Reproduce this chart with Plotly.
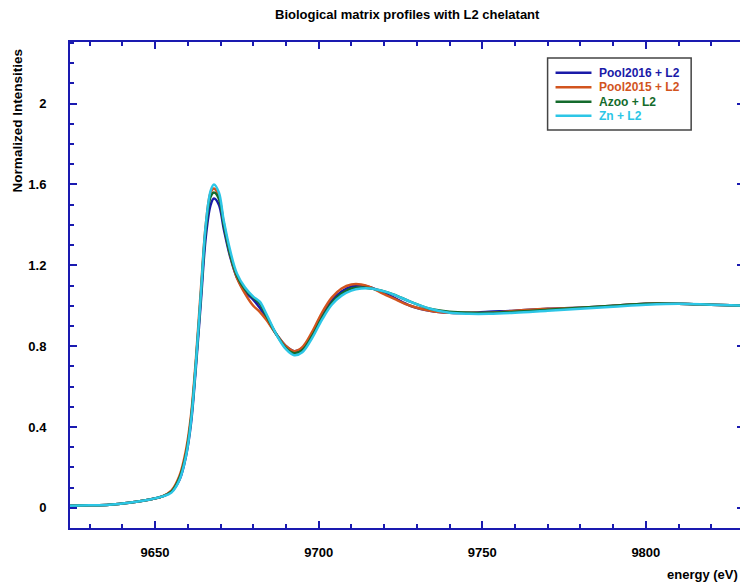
import plotly.graph_objects as go

energy = [9624, 9630, 9636, 9642, 9648, 9652, 9655, 9657.5, 9659.5, 9661, 9662.5, 9664, 9665.5, 9667, 9668, 9669.5,
          9671, 9673, 9675, 9677.5, 9680, 9682, 9684, 9687, 9690, 9692.5, 9695, 9698, 9701, 9704, 9707, 9710,
          9713, 9716, 9719, 9723, 9728, 9734, 9740, 9746, 9752, 9760, 9770, 9780, 9790, 9800, 9810, 9820, 9830]

pool2016 = [0.01, 0.012, 0.015, 0.025, 0.04, 0.055, 0.08, 0.14, 0.26, 0.42, 0.70, 1.02, 1.34, 1.50, 1.53, 1.50,
            1.38, 1.24, 1.14, 1.07, 1.03, 0.99, 0.94, 0.86, 0.80, 0.775, 0.79, 0.86, 0.95, 1.025, 1.07, 1.095,
            1.10, 1.09, 1.07, 1.04, 1.00, 0.975, 0.965, 0.965, 0.97, 0.975, 0.985, 0.99, 1.0, 1.01, 1.01, 1.005, 1.0]
pool2015 = [0.01, 0.012, 0.015, 0.025, 0.04, 0.055, 0.085, 0.16, 0.29, 0.46, 0.74, 1.08, 1.40, 1.56, 1.58, 1.54,
            1.41, 1.25, 1.14, 1.06, 1.00, 0.97, 0.93, 0.86, 0.80, 0.775, 0.795, 0.87, 0.965, 1.04, 1.085, 1.105,
            1.105, 1.09, 1.065, 1.035, 1.00, 0.975, 0.965, 0.965, 0.965, 0.975, 0.985, 0.99, 1.0, 1.01, 1.01, 1.005, 1.0]
azoo = [0.01, 0.012, 0.015, 0.025, 0.04, 0.055, 0.08, 0.15, 0.27, 0.44, 0.72, 1.05, 1.38, 1.54, 1.56, 1.53,
        1.40, 1.25, 1.15, 1.08, 1.04, 1.01, 0.95, 0.86, 0.79, 0.765, 0.78, 0.85, 0.94, 1.015, 1.06, 1.085,
        1.09, 1.085, 1.075, 1.055, 1.02, 0.985, 0.97, 0.965, 0.965, 0.97, 0.98, 0.99, 1.0, 1.01, 1.01, 1.005, 1.0]
zn = [0.01, 0.012, 0.015, 0.025, 0.04, 0.055, 0.075, 0.14, 0.26, 0.43, 0.72, 1.06, 1.40, 1.57, 1.60, 1.56,
      1.42, 1.27, 1.16, 1.09, 1.045, 1.02, 0.96, 0.86, 0.785, 0.755, 0.77, 0.84, 0.93, 1.005, 1.05, 1.075,
      1.085, 1.085, 1.075, 1.055, 1.02, 0.985, 0.965, 0.96, 0.96, 0.965, 0.975, 0.985, 0.995, 1.005, 1.01, 1.005, 1.0]

names = ["Pool2016 + L2", "Pool2015 + L2", "Azoo + L2", "Zn + L2"]
colors = ["#1a1aa8", "#d2541e", "#146b2c", "#2cc6e6"]
series = [pool2016, pool2015, azoo, zn]

x_ticks = [9650, 9700, 9750, 9800]
x_labels = ["9650", "9700", "9750", "9800"]
y_ticks = [0, 0.4, 0.8, 1.2, 1.6, 2]
y_labels = ["0", "0.4", "0.8", "1.2", "1.6", "2"]

fig = go.Figure()
for n, c, s in zip(names, colors, series):
    fig.add_trace(go.Scatter(x=energy, y=s, mode="lines", name=n, showlegend=False,
                             line=dict(color=c, width=2.5, shape="spline")))

frame = "#1a1ab0"
font = "Liberation Sans, Arial, sans-serif"
axis_common = dict(showline=True, linecolor=frame, linewidth=2, mirror="ticks", ticks="inside",
                   tickcolor=frame, tickwidth=2, ticklen=7, showgrid=False, zeroline=False,
                   tickfont=dict(family=font, size=13, color="black", weight="bold"))
fig.update_xaxes(range=[9624, 9830], tickvals=x_ticks, ticktext=x_labels, ticklabelstandoff=11,
                 minor=dict(ticks="inside", dtick=10, tick0=9620, ticklen=4, tickcolor=frame, tickwidth=2),
                 **axis_common)
fig.update_yaxes(range=[-0.1, 2.305], tickvals=y_ticks, ticktext=y_labels, ticklabelstandoff=19,
                 minor=dict(ticks="inside", dtick=0.1, tick0=0, ticklen=4, tickcolor=frame, tickwidth=2),
                 **axis_common)

# manual legend (paper coordinates)
shapes = [dict(type="rect", xref="paper", yref="paper", x0=0.7086, x1=0.9216, y0=0.819, y1=0.967,
               line=dict(color="#444", width=1.5), fillcolor="white", layer="above")]
annotations = []
row_y = [0.9367, 0.907, 0.877, 0.848]
for n, c, yy in zip(names, colors, row_y):
    shapes.append(dict(type="line", xref="paper", yref="paper", x0=0.7204, x1=0.7737, y0=yy, y1=yy,
                       line=dict(color=c, width=2.5), layer="above"))
    annotations.append(dict(text=f"<b>{n}</b>", xref="paper", yref="paper", x=0.7825, y=yy,
                            xanchor="left", yanchor="middle", showarrow=False,
                            font=dict(family=font, size=12, color=c)))

annotations += [
    dict(text="<b>Biological matrix profiles with L2 chelatant</b>", xref="paper", yref="paper",
         x=0.5, y=1.0576, xanchor="center", yanchor="middle", showarrow=False,
         font=dict(family=font, size=13, color="black")),
    dict(text="<b>Normalized Intensities</b>", xref="paper", yref="paper", x=-0.0784, y=0.837,
         xanchor="center", yanchor="middle", textangle=-90, showarrow=False,
         font=dict(family=font, size=13.5, color="black")),
    dict(text="<b>energy (eV)</b>", xref="paper", yref="paper", x=0.994, y=-0.0967,
         xanchor="right", yanchor="middle", showarrow=False,
         font=dict(family=font, size=13, color="black")),
]

fig.update_layout(
    width=740, height=580, margin=dict(l=62, r=2, t=34, b=60),
    plot_bgcolor="white", paper_bgcolor="white",
    shapes=shapes, annotations=annotations,
)
fig.write_html("out.html")
